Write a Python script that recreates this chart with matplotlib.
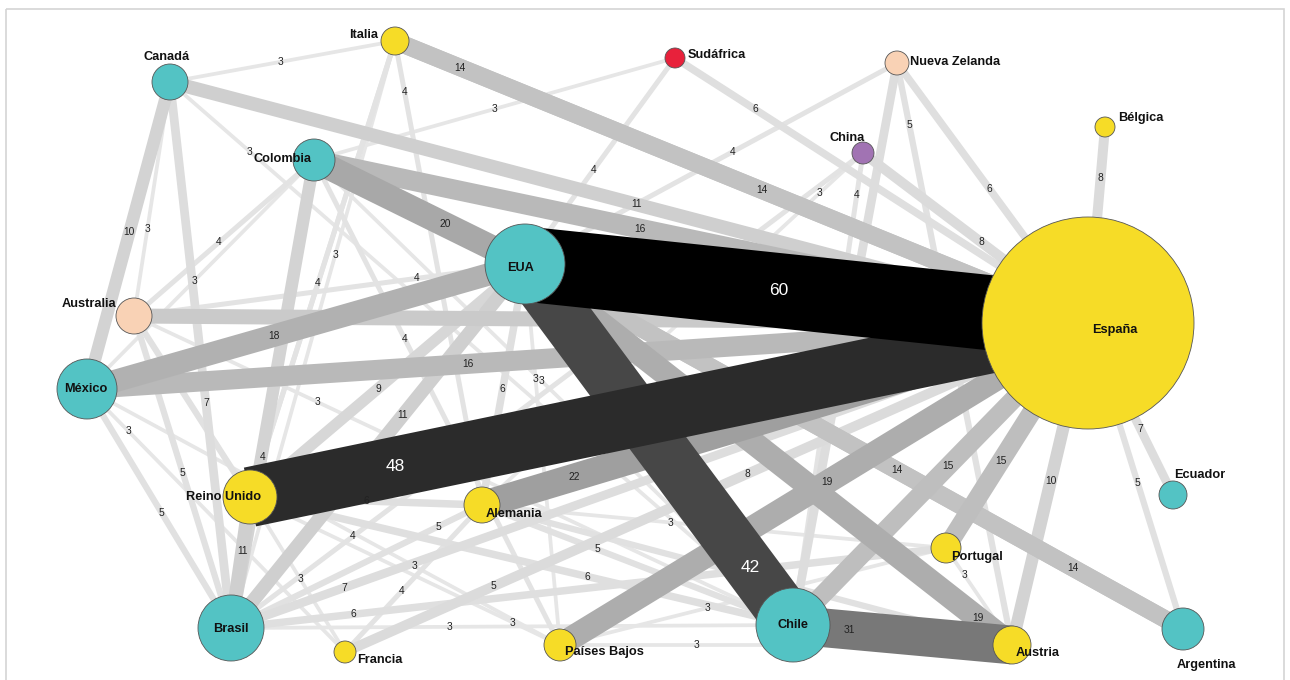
import matplotlib
matplotlib.use("Agg")
import matplotlib.pyplot as plt
from matplotlib.patches import Circle, Rectangle
import numpy as np

# ---------------- data ----------------
nodes = ["Italia", "Canadá", "Sudáfrica", "Nueva Zelanda", "Bélgica", "China",
         "Colombia", "EUA", "Australia", "España", "México", "Reino Unido",
         "Alemania", "Ecuador", "Portugal", "Brasil", "Francia", "Países Bajos",
         "Chile", "Austria", "Argentina"]
regions = ["Europa", "América", "África", "Oceanía", "Europa", "Asia",
           "América", "América", "Oceanía", "Europa", "América", "Europa",
           "Europa", "América", "Europa", "América", "Europa", "Europa",
           "América", "Europa", "América"]

edge_src = ["EUA", "Reino Unido", "EUA", "Chile", "Alemania", "Colombia", "Países Bajos", "EUA",
            "México", "Colombia", "México", "Chile", "Portugal", "Italia", "España", "EUA",
            "Argentina", "Australia", "Canadá", "Brasil", "Reino Unido", "Canadá", "España",
            "Colombia", "Reino Unido", "Bélgica", "China", "Francia", "Canadá", "España",
            "Brasil", "Nueva Zelanda", "Sudáfrica", "Nueva Zelanda", "Reino Unido", "EUA",
            "Reino Unido", "Brasil", "Nueva Zelanda", "España", "Australia", "México",
            "Brasil", "Alemania", "España", "Australia", "Alemania", "Italia", "Sudáfrica",
            "EUA", "China", "Colombia", "Australia", "Colombia", "Italia", "Reino Unido",
            "Brasil", "Francia", "Canadá", "Colombia", "Canadá", "China", "Canadá",
            "Colombia", "Italia", "Colombia", "EUA", "Australia", "México", "Reino Unido",
            "México", "Reino Unido", "Brasil", "Alemania", "Países Bajos", "Países Bajos",
            "Portugal"]
edge_dst = ["España", "España", "Chile", "Austria", "España", "EUA", "España", "Austria",
            "EUA", "España", "España", "España", "España", "España", "Italia", "Argentina",
            "EUA", "España", "España", "EUA", "Brasil", "México", "Austria",
            "Brasil", "EUA", "España", "España", "España", "Brasil", "Ecuador",
            "España", "Chile", "España", "España", "Alemania", "Alemania",
            "Chile", "Portugal", "Austria", "Argentina", "Brasil", "Brasil",
            "Alemania", "Chile", "Francia", "Reino Unido", "Austria", "Alemania", "EUA",
            "Nueva Zelanda", "Chile", "Australia", "EUA", "Países Bajos", "Reino Unido", "Italia",
            "China", "Alemania", "Italia", "Sudáfrica", "Chile", "Alemania", "Australia",
            "México", "Brasil", "Chile", "Países Bajos", "Chile", "Francia", "Francia",
            "Países Bajos", "Países Bajos", "Chile", "Portugal", "Portugal", "Austria",
            "Austria"]
edge_weight = [60, 48, 42, 31, 22, 20, 19, 19,
               18, 16, 16, 15, 15, 14, 14, 14,
               14, 12, 11, 11, 11, 10, 10,
               10, 9, 8, 8, 8, 7, 7,
               7, 7, 6, 6, 6, 6,
               6, 6, 5, 5, 5, 5,
               5, 5, 5, 5, 5, 4, 4,
               4, 4, 4, 4, 4, 4, 4,
               4, 4, 3, 3, 3, 3, 3,
               3, 3, 3, 3, 3, 3, 3,
               3, 3, 3, 3, 3, 3,
               3]
edge_labelled = [True, True, True, True, True, True, True, True,
                 True, True, True, True, True, True, True, True,
                 True, False, True, True, True, True, True,
                 False, True, True, True, True, True, True,
                 True, False, True, True, True, True,
                 True, True, True, True, True, True,
                 True, True, True, False, False, True, True,
                 True, True, True, True, True, True, True,
                 True, True, True, True, True, True, True,
                 True, True, True, True, True, True, True,
                 True, True, True, True, True, True,
                 True]

# ---------------- layout / style ----------------
node_x = [395, 170, 675, 897, 1105, 863, 314, 525, 134, 1088, 87, 250,
          482, 1173, 946, 231, 345, 560, 793, 1012, 1183]
node_y = [41, 82, 58, 63, 127, 153, 160, 264, 316, 323, 389, 497,
          505, 495, 548, 628, 652, 645, 625, 645, 629]
node_r = [14, 18, 10, 12, 10, 11, 21, 40, 18, 106, 30, 27,
          18, 14, 15, 33, 11, 16, 37, 19, 21]
# node label offset (px) and alignment
lab_dx = [-17, -3, 13, 13, 13, -16, -32, -4, -18, 27, -1, -26,
          4, 27, 5, 0, 12, 5, 0, 4, 23]
lab_dy = [-6, -25, -3, -1, -9, -15, -1, 4, -12, 7, 0, 0,
          9, -20, 9, 1, 8, 7, 0, 8, 36]
lab_ha = ["right", "center", "left", "left", "left", "center", "center", "center",
          "right", "center", "center", "center", "left", "center", "left", "center",
          "left", "left", "center", "left", "center"]
# position of each edge label along the edge (fraction from source)
label_t = [0.45, 0.173, 0.842, 0.256, 0.153, 0.62, 0.506, 0.93,
           0.427, 0.421, 0.381, 0.525, 0.387, 0.094, 0.47, 0.565,
           0.167, 0.5, 0.508, 0.585, 0.41, 0.49, 0.49,
           0.5, 0.465, 0.26, 0.524, 0.541, 0.588, 0.616,
           0.132, 0.5, 0.194, 0.485, 0.5, 0.519,
           0.622, 0.171, 0.107, 0.523, 0.503, 0.519,
           0.825, 0.37, 0.8, 0.5, 0.5, 0.11, 0.544,
           0.559, 0.089, 0.528, 0.724, 0.369, 0.531, 0.088,
           0.193, 0.416, 0.493, 0.501, 0.128, 0.113, 0.628,
           0.528, 0.365, 0.475, 0.302, 0.279, 0.16, 0.529,
           0.693, 0.848, 0.388, 0.407, 0.383, 0.301,
           0.278]

region_color = {"Europa": "#f6dc27", "América": "#53c3c4", "Oceanía": "#f9d2b5",
                "África": "#e8213b", "Asia": "#a173b3"}

FONT = ["Liberation Sans", "DejaVu Sans"]

W, H = 1290, 680
fig = plt.figure(figsize=(W / 100, H / 100), dpi=100)
ax = fig.add_axes([0, 0, 1, 1])
ax.set_xlim(0, W)
ax.set_ylim(H, 0)
ax.axis("off")

ax.add_patch(Rectangle((6, 9), 1278, 720, fill=False, ec="#d4d4d4", lw=1.2, zorder=0))

idx = {n: i for i, n in enumerate(nodes)}
px_to_pt = 72 / 100


def gray(w):
    g = np.interp(w, [3, 8, 14, 20, 31, 42, 48, 60],
                  [0.90, 0.86, 0.76, 0.66, 0.47, 0.28, 0.17, 0.0])
    return (g, g, g)


order = np.argsort(edge_weight, kind="stable")
for k in order:
    a, b, w = idx[edge_src[k]], idx[edge_dst[k]], edge_weight[k]
    ax.plot([node_x[a], node_x[b]], [node_y[a], node_y[b]],
            color=gray(w), lw=1.25 * w * px_to_pt, solid_capstyle="butt",
            zorder=1 + w / 100.0)

for k in range(len(edge_weight)):
    if not edge_labelled[k]:
        continue
    a, b, w = idx[edge_src[k]], idx[edge_dst[k]], edge_weight[k]
    t = label_t[k]
    lx = node_x[a] + t * (node_x[b] - node_x[a])
    ly = node_y[a] + t * (node_y[b] - node_y[a])
    big = w >= 40
    ax.text(lx, ly, str(w), fontsize=12.5 if big else 7.4,
            color="white" if big else "#222222", ha="center", va="center",
            family=FONT, zorder=5)

for i, n in enumerate(nodes):
    ax.add_patch(Circle((node_x[i], node_y[i]), node_r[i],
                        fc=region_color[regions[i]], ec="#555555", lw=0.6, zorder=10))
    ax.text(node_x[i] + lab_dx[i], node_y[i] + lab_dy[i], n, fontsize=9.2,
            fontweight="bold", ha=lab_ha[i], va="center", family=FONT,
            color="#111111", zorder=11)

fig.savefig("out.png", dpi=100, facecolor="white")
